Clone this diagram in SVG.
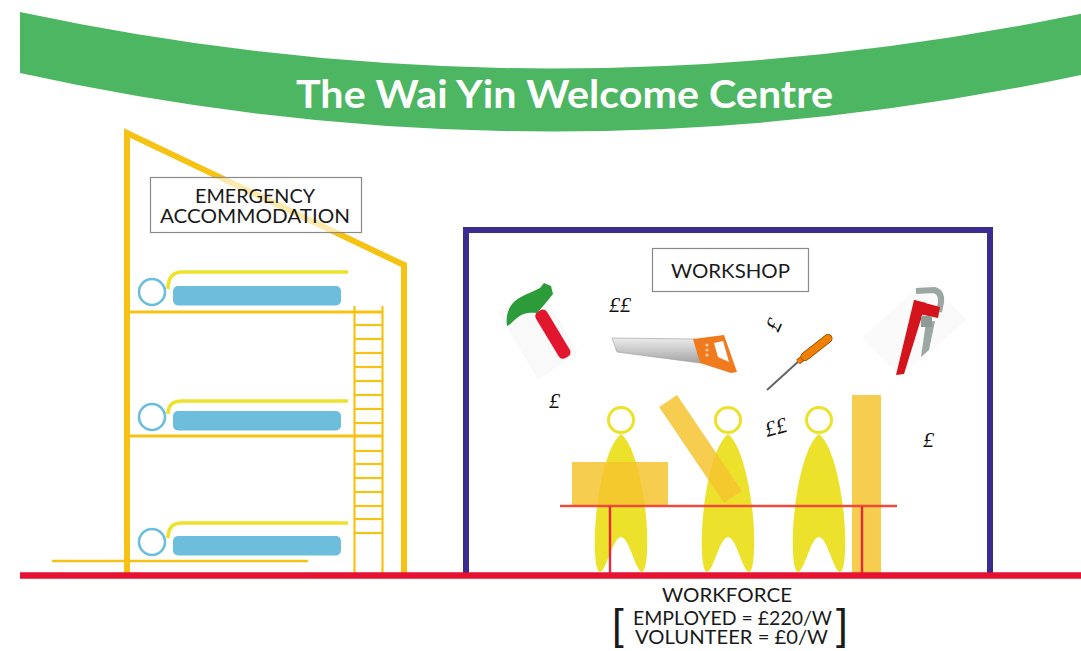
<svg xmlns="http://www.w3.org/2000/svg" width="1081" height="651" viewBox="0 0 1081 651">
  <defs>
    <style>
      .lbl { font-family: Lato, "Liberation Sans", "DejaVu Sans", sans-serif; font-size: 20px; fill: #1a1a1a; text-anchor: middle; }
      .sm { font-size: 19px; }
      .box { stroke: #8a8a8a; stroke-width: 1.2; }
      .frame { fill: none; stroke: #F6C314; stroke-linejoin: miter; stroke-miterlimit: 10; }
      .bar { stroke: #F6C314; fill: none; }
      .head { fill: none; stroke: #6DBEDD; stroke-width: 2.6; }
      .mat { fill: #6DBEDD; }
      .blanket { fill: none; stroke: #EDE22C; stroke-width: 3.6; }
      .money { font-family: "Liberation Serif", "DejaVu Serif", serif; font-style: italic; font-size: 22px; fill: #111; }
      .person { fill: #ECE22B; }
      .pface { fill: #fff; stroke: #ECE22B; stroke-width: 3; }
      .plank { fill: #F5C42F; opacity: 0.85; }
      .brk { font-family: "Liberation Sans", "DejaVu Sans", sans-serif; font-size: 42px; fill: #1a1a1a; }
    </style>
    <linearGradient id="blade" x1="0" y1="0" x2="0" y2="1">
      <stop offset="0" stop-color="#ececec"/>
      <stop offset="1" stop-color="#a4a4a4"/>
    </linearGradient>
    <!-- one bunk: pillow ring and mattress -->
    <g id="bunk">
      <circle class="head" cx="152" cy="0" r="13"/>
      <rect class="mat" x="173" y="-6" width="168" height="19.5" rx="5"/>
    </g>
  </defs>

  <rect width="1081" height="651" fill="#fff"/>

  <!-- title banner -->
  <g id="banner">
    <path d="M20,12 Q550,125 1090,12 L1090,73 Q550,190 20,73 Z" fill="#4DB663"/>
    <text x="296" y="108" textLength="537" lengthAdjust="spacingAndGlyphs" font-family="Lato, 'Liberation Sans', sans-serif" font-weight="bold" font-size="39" fill="#fff">The Wai Yin Welcome Centre</text>
  </g>

  <!-- emergency accommodation: frame, shelves, ladder, bunks -->
  <g id="accommodation">
    <polyline class="frame" stroke-width="6" points="127,575 127,133 404,265 404,573"/>
    <line class="bar" stroke-width="3" x1="129" y1="312" x2="383" y2="312"/>
    <line class="bar" stroke-width="3" x1="129" y1="436" x2="383" y2="436"/>
    <line class="bar" stroke-width="2.6" x1="52" y1="561" x2="308" y2="561"/>
    <g id="ladder" class="bar" stroke-width="2.2">
      <line x1="354.5" y1="306" x2="354.5" y2="575"/>
      <line x1="382.5" y1="306" x2="382.5" y2="575"/>
      <line x1="354" y1="325" x2="383" y2="325"/>
      <line x1="354" y1="339" x2="383" y2="339"/>
      <line x1="354" y1="353" x2="383" y2="353"/>
      <line x1="354" y1="367" x2="383" y2="367"/>
      <line x1="354" y1="381" x2="383" y2="381"/>
      <line x1="354" y1="395" x2="383" y2="395"/>
      <line x1="354" y1="409" x2="383" y2="409"/>
      <line x1="354" y1="423" x2="383" y2="423"/>
      <line x1="354" y1="451" x2="383" y2="451"/>
      <line x1="354" y1="464" x2="383" y2="464"/>
      <line x1="354" y1="478" x2="383" y2="478"/>
      <line x1="354" y1="492" x2="383" y2="492"/>
      <line x1="354" y1="506" x2="383" y2="506"/>
      <line x1="354" y1="519" x2="383" y2="519"/>
      <line x1="354" y1="533" x2="383" y2="533"/>
    </g>
    <g id="bunk-top">
      <use href="#bunk" y="292"/>
      <path class="blanket" d="M168,289 Q168,272 182,272 L348,272"/>
    </g>
    <g id="bunk-middle">
      <use href="#bunk" y="417"/>
      <path class="blanket" d="M168,414 Q168,401 182,401 L348,401"/>
    </g>
    <g id="bunk-bottom">
      <use href="#bunk" y="542"/>
      <path class="blanket" d="M168,538 Q168,523 182,523 L348,523"/>
    </g>
    <g id="label-accommodation">
      <rect class="box" x="150.5" y="177.5" width="211" height="55" fill="#fff" fill-opacity="0.65"/>
      <text class="lbl sm" x="255" y="203" textLength="120" lengthAdjust="spacingAndGlyphs">EMERGENCY</text>
      <text class="lbl sm" x="255" y="223" textLength="190" lengthAdjust="spacingAndGlyphs">ACCOMMODATION</text>
    </g>
  </g>

  <!-- workshop -->
  <g id="workshop">
    <polyline points="466,577 466,230 990,230 990,577" fill="none" stroke="#3A2D8F" stroke-width="6"/>
    <g id="label-workshop">
      <rect class="box" x="652.5" y="248.5" width="156" height="43" fill="#fff"/>
      <text class="lbl" x="730.5" y="278" textLength="119" lengthAdjust="spacingAndGlyphs">WORKSHOP</text>
    </g>

    <g id="hammer">
      <polygon points="498,312 538,285 578,352 538,380" fill="#f8f9f8"/>
      <rect x="-6.5" y="0" width="13" height="54" rx="5" fill="#E2162F" transform="translate(539,311) rotate(-31)"/>
      <path d="M507,326 C505,312 511,302 521,297 C528,293 535,291 540,288 L544,283 L551,286 L553,294 L549,299 L544,305 L537,313 C529,312 522,313 517,318 C513,321 510,325 507,326 Z" fill="#2C9C3B"/>
    </g>

    <g id="saw">
      <polygon points="612,338 695,339 700,363 617,352" fill="url(#blade)" stroke="#9a9a9a" stroke-width="0.6"/>
      <polygon points="693,339 724,335 737,372 731,373 700,363" fill="#F07A1E"/>
      <polygon points="714,343 723,341 729,362 718,357" fill="#fff"/>
      <circle cx="707" cy="345" r="1.6" fill="#f9caa0"/>
      <circle cx="707" cy="350" r="1.6" fill="#f9caa0"/>
      <circle cx="707" cy="355" r="1.6" fill="#f9caa0"/>
    </g>

    <g id="screwdriver">
      <line x1="767" y1="390" x2="800" y2="360" stroke="#666" stroke-width="2"/>
      <line x1="798" y1="362" x2="807" y2="355" stroke="#8a4200" stroke-width="6"/>
      <line x1="798" y1="362" x2="807" y2="355" stroke="#F08000" stroke-width="4.4"/>
      <line x1="805" y1="356.5" x2="828" y2="338.5" stroke="#8a4200" stroke-width="9" stroke-linecap="round"/>
      <line x1="805" y1="356.5" x2="828" y2="338.5" stroke="#F08000" stroke-width="7.4" stroke-linecap="round"/>
    </g>

    <g id="wrench">
      <polygon points="862,337 927,280 967,320 900,377" fill="#f9faf9"/>
      <path d="M916,291 L934,290 Q942,292 941,302 L939,312" fill="none" stroke="#9BA7A2" stroke-width="6"/>
      <polygon points="926,322 935,321 929,350 921,357" fill="#9BA7A2"/>
      <polygon points="914,300 926,303 904,374 896,375" fill="#D4141C"/>
      <polygon points="914,300 940,307 938,318 919,314" fill="#D4141C"/>
      <rect x="921" y="316" width="11" height="11" fill="#8F9A96"/>
    </g>

    <g id="money">
      <text class="money" x="609" y="312">££</text>
      <text class="money" x="549" y="408">£</text>
      <text class="money" transform="translate(778,333) rotate(-65)">£</text>
      <text class="money" transform="translate(767,437) rotate(-15)">££</text>
      <text class="money" x="923" y="447">£</text>
    </g>
  </g>

  <!-- workers -->
  <g id="workers">
    <g id="worker-1">
      <path class="person" d="M621,434 C635,445 645,490 647,530 C648,555 646,572 642,572 C636,572 629,537 621,537 C613,537 606,572 600,572 C596,572 594,555 595,530 C597,490 607,445 621,434 Z"/>
      <circle class="pface" cx="621" cy="420" r="12.5"/>
    </g>
    <g id="worker-2">
      <path class="person" d="M728,434 C742,445 752,490 754,530 C755,555 753,572 749,572 C743,572 736,537 728,537 C720,537 713,572 707,572 C703,572 701,555 702,530 C704,490 714,445 728,434 Z"/>
      <circle class="pface" cx="728" cy="420" r="12.5"/>
    </g>
    <g id="worker-3">
      <path class="person" d="M819,434 C833,445 843,490 845,530 C846,555 844,572 840,572 C834,572 827,537 819,537 C811,537 804,572 798,572 C794,572 792,555 793,530 C795,490 805,445 819,434 Z"/>
      <circle class="pface" cx="819" cy="420" r="12.5"/>
    </g>
  </g>

  <!-- materials on the bench -->
  <g id="materials">
    <rect class="plank" x="572" y="462" width="96" height="45"/>
    <rect class="plank" x="-10.8" y="-58" width="21.6" height="116" transform="translate(700.5,449) rotate(-34)"/>
    <rect class="plank" x="852" y="395" width="29" height="180"/>
  </g>

  <!-- bench -->
  <g id="bench">
    <line x1="560" y1="506" x2="897" y2="506" stroke="#EE4B3F" stroke-width="2.6"/>
    <line x1="610" y1="506" x2="610" y2="575" stroke="#E8283F" stroke-width="2.4"/>
    <line x1="862" y1="506" x2="862" y2="575" stroke="#E8283F" stroke-width="2.4"/>
  </g>

  <!-- ground -->
  <g id="connectors">
    <line x1="20" y1="575.5" x2="1081" y2="575.5" stroke="#E51231" stroke-width="6.5"/>
  </g>

  <!-- workforce caption -->
  <g id="workforce">
    <text class="lbl" x="727" y="602" textLength="130" lengthAdjust="spacingAndGlyphs">WORKFORCE</text>
    <text class="lbl sm" x="732.5" y="625" textLength="199" lengthAdjust="spacingAndGlyphs">EMPLOYED = £220/W</text>
    <text class="lbl sm" x="731.5" y="644" textLength="193" lengthAdjust="spacingAndGlyphs">VOLUNTEER = £0/W</text>
    <text class="brk" x="612" y="639">[</text>
    <text class="brk" x="836" y="639">]</text>
  </g>
</svg>
